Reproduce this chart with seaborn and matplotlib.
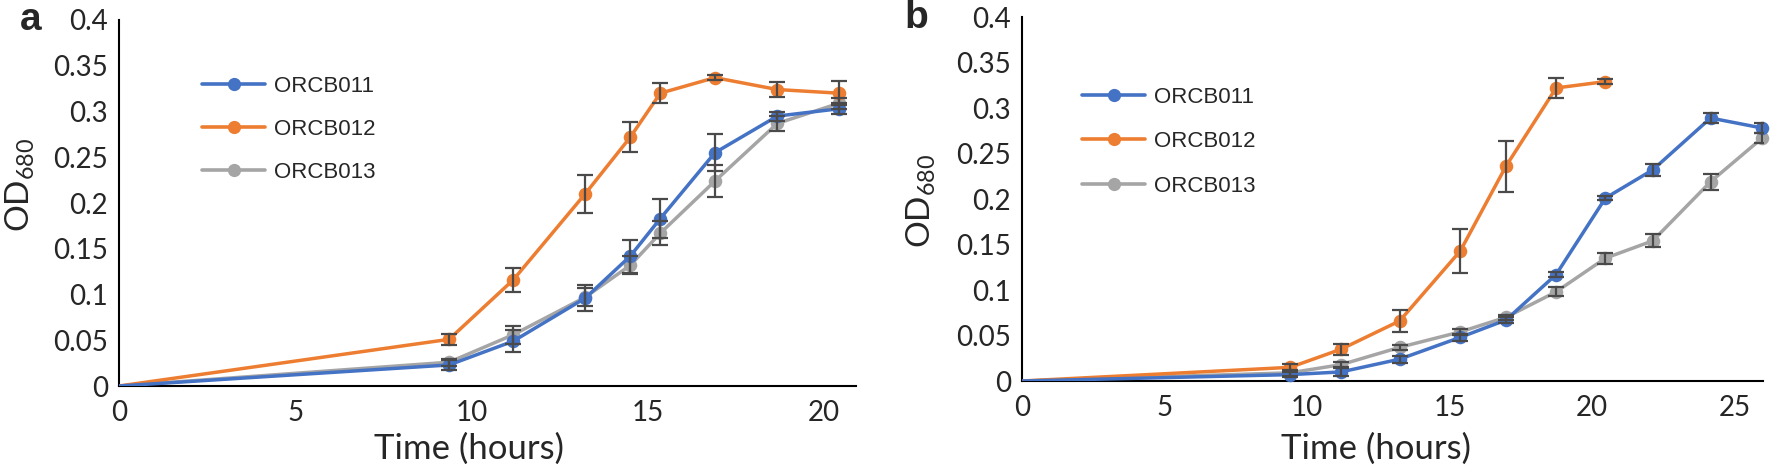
import matplotlib
matplotlib.use("Agg")
import matplotlib.pyplot as plt
from matplotlib.lines import Line2D
import pandas as pd
import seaborn as sns

# panel a data (time in hours, OD680 mean and error)
t_a = [0, 9.36, 11.18, 13.22, 14.5, 15.35, 16.9, 18.67, 20.42]
a011 = [0, 0.023, 0.049, 0.096, 0.142, 0.183, 0.255, 0.295, 0.303]
a012 = [0, 0.051, 0.116, 0.210, 0.272, 0.320, 0.337, 0.324, 0.320]
a013 = [0, 0.026, 0.056, 0.097, 0.132, 0.167, 0.224, 0.287, 0.309]
a011_err = [0, 0.005, 0.012, 0.014, 0.018, 0.021, 0.020, 0.005, 0.006]
a012_err = [0, 0.006, 0.013, 0.021, 0.016, 0.011, 0.003, 0.008, 0.013]
a013_err = [0, 0.004, 0.010, 0.010, 0.010, 0.013, 0.017, 0.008, 0.006]

# panel b data
t_b = [0, 9.4, 11.19, 13.24, 15.37, 16.97, 18.73, 20.46, 22.12, 24.15, 25.96]
b011 = [0, 0.007, 0.010, 0.024, 0.048, 0.067, 0.117, 0.201, 0.232, 0.289, 0.278]
b012 = [0, 0.015, 0.035, 0.066, 0.143, 0.236, 0.322, 0.329]
b013 = [0, 0.009, 0.018, 0.037, 0.054, 0.070, 0.098, 0.135, 0.154, 0.219, 0.267]
b011_err = [0, 0.003, 0.004, 0.004, 0.004, 0.003, 0.003, 0.002, 0.007, 0.006, 0.005]
b012_err = [0, 0.004, 0.006, 0.012, 0.024, 0.028, 0.011, 0.003]
b013_err = [0, 0.003, 0.003, 0.003, 0.003, 0.003, 0.005, 0.006, 0.007, 0.009, 0.006]

strains = ["ORCB011", "ORCB012", "ORCB013"]
colors = {"ORCB011": "#4472C4", "ORCB012": "#ED7D31", "ORCB013": "#A5A5A5"}
order_z = {"ORCB013": 2, "ORCB012": 3, "ORCB011": 4}

sns.set_style("white")
plt.rcParams["font.family"] = ["Lato", "DejaVu Sans"]
plt.rcParams["mathtext.default"] = "regular"

W, H = 1771, 469
fig = plt.figure(figsize=(W / 100, H / 100), dpi=100)


def make_df(t, series, errs):
    rows = []
    for name, vals, ee in zip(strains, series, errs):
        for x, y, e in zip(t, vals, ee):
            rows.append({"time": x, "od": y, "err": e, "strain": name})
    return pd.DataFrame(rows)


def draw_panel(ax, df, xmax, xticks, leg_anchor, leg_space):
    for name in ["ORCB013", "ORCB012", "ORCB011"]:
        d = df[df.strain == name]
        z = order_z[name]
        sns.lineplot(data=d, x="time", y="od", color=colors[name], lw=2.5,
                     ax=ax, legend=False, zorder=z)
        pts = d[d.time > 0]
        sns.scatterplot(data=pts, x="time", y="od", color=colors[name], s=95,
                        linewidth=0, ax=ax, legend=False, zorder=z + 0.1, clip_on=False)
        ax.errorbar(pts.time, pts.od, yerr=pts.err, fmt="none", ecolor="#4a4a4a",
                    elinewidth=1.6, capsize=5.5, capthick=1.6, zorder=6)
    ax.set_xlim(0, xmax)
    ax.set_ylim(0, 0.4)
    ax.set_xticks(xticks)
    ax.set_yticks([0, 0.05, 0.1, 0.15, 0.2, 0.25, 0.3, 0.35, 0.4])
    ax.set_yticklabels(["0", "0.05", "0.1", "0.15", "0.2", "0.25", "0.3", "0.35", "0.4"])
    ax.tick_params(axis="both", labelsize=20, length=0)
    ax.tick_params(axis="x", pad=10)
    ax.tick_params(axis="y", pad=8)
    ax.set_xlabel("")
    ax.set_ylabel("")
    for s in ["top", "right"]:
        ax.spines[s].set_visible(False)
    for s in ["left", "bottom"]:
        ax.spines[s].set_color("black")
        ax.spines[s].set_linewidth(1.5)
    handles = [Line2D([0], [0], color=colors[n], lw=2.6, marker="o", markersize=9.5,
                      markeredgewidth=0) for n in strains]
    ax.legend(handles, strains, loc="upper left", bbox_to_anchor=leg_anchor,
              frameon=False, borderpad=0, borderaxespad=0, handlelength=2.85,
              handletextpad=0.4, labelspacing=leg_space,
              prop={"family": "Liberation Sans", "size": 16})


df_a = make_df(t_a, [a011, a012, a013], [a011_err, a012_err, a013_err])
df_b = make_df(t_b, [b011, b012, b013], [b011_err, b012_err, b013_err])

ax_a = fig.add_axes([119 / W, 1 - 386 / H, (856 - 119) / W, (386 - 20) / H])
draw_panel(ax_a, df_a, 20.9, [0, 5, 10, 15, 20], (0.1126, 0.847), 0.98)

ax_b = fig.add_axes([1022.3 / W, 1 - 381 / H, (1763.3 - 1022.3) / W, (381 - 17) / H])
draw_panel(ax_b, df_b, 26.0, [0, 5, 10, 15, 20, 25], (0.0806, 0.808), 1.05)

# axis titles and panel letters
fig.text(20 / W, 1 - 185 / H, "OD$_{680}$", rotation=90, ha="center", va="center", fontsize=24)
fig.text(921 / W, 1 - 201 / H, "OD$_{680}$", rotation=90, ha="center", va="center", fontsize=24)
fig.text(469 / W, 1 - 449 / H, "Time (hours)", ha="center", va="center", fontsize=25)
fig.text(1376 / W, 1 - 449 / H, "Time (hours)", ha="center", va="center", fontsize=25)
fig.text(31 / W, 1 - 20 / H, "a", ha="center", va="center", fontsize=28,
         fontweight="bold", family="Liberation Sans")
fig.text(916 / W, 1 - 18 / H, "b", ha="center", va="center", fontsize=28,
         fontweight="bold", family="Liberation Sans")

fig.savefig("out.png", dpi=100)
